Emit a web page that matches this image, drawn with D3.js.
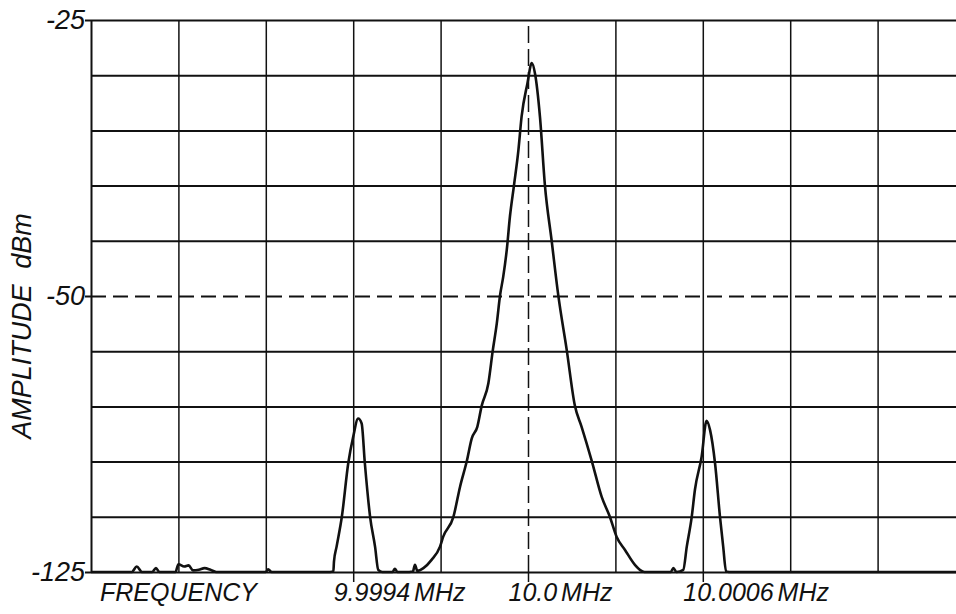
<!DOCTYPE html>
<html>
<head>
<meta charset="utf-8">
<script src="https://cdn.jsdelivr.net/npm/d3@7"></script>
<style>
  body { margin: 0; background: #fff; }
  text { font-family: 'Liberation Sans', Arial, sans-serif; font-style: italic; fill: #111; }
</style>
</head>
<body>
<div id="canvas"></div>
<script>
// chart size
const height = 614;
const width = 956;

// trace: offset from 10.0 MHz in Hz, level in dBm
const freqOffsetHz = [
  -1500, -1360, -1343, -1325, -1290, -1277, -1265, -1210, -1200, -1180, -1165, -1150,
  -1130, -1110, -1090, -1070, -900, -892, -880,
  -690, -668, -666, -657, -639, -617, -600, -583, -571, -560, -542, -525, -514, -500,
  -465, -457, -448, -420, -395, -388, -380, -359, -331, -302, -291, -256, -233, -210,
  -193, -174, -159, -136, -121, -107, -96, -85, -73, -62, -48, -33, -22, -2, 13,
  24, 41, 58, 81, 104, 133, 161, 184, 219, 253, 281, 304, 333, 367, 390, 400,
  490, 499, 510, 533, 545, 562, 573, 596, 613, 625, 642, 659, 670, 680, 700, 1500
];
const levelDbm = [
  -125, -125, -124.0, -125, -125, -124.3, -125, -125, -123.6, -124.0, -123.8, -124.7,
  -124.6, -124.3, -124.6, -125, -125, -124.5, -125,
  -125, -124.9, -123.1, -120.4, -115.0, -105.3, -100.5, -97.2, -98.1, -105.3, -115.0, -120.4, -124.6, -125,
  -125, -124.4, -125, -125, -124.9, -123.7, -124.8, -124.3, -122.8, -120.4, -118.6, -115.0, -109.5, -104.9,
  -100.8, -98.7, -94.9, -90.8, -84.9, -79.9, -74.9, -71.5, -66.7, -60.6, -54.9, -48.6, -42.5, -36.5, -32.8,
  -34.7, -42.5, -54.9, -64.9, -74.9, -84.8, -94.9, -98.7, -104.9, -111.4, -115.0, -118.6, -121.0, -123.7, -124.8, -125,
  -125, -124.3, -125, -124.6, -120.4, -115.0, -110.1, -104.1, -97.6, -99.3, -105.3, -115.0, -120.4, -124.9, -125, -125
];

// axis labels as printed on the plot
const yTicks = [-25, -75, -125];
const yTickLabels = ['-25', '-50', '-125'];
const xTicks = [-600, 0, 600];
const xTickLabels = ['9.9994 MHz', '10.0 MHz', '10.0006 MHz'];

const trace = freqOffsetHz.map((f, i) => [f, levelDbm[i]]);

const canvas = d3.select('#canvas')
  .append('svg')
  .attr('width', width)
  .attr('height', height);

const margin = { top: 20, left: 91, bottom: 42 };
const innerWidth = 874;   // ten 300 Hz divisions, right edge runs off the page
const innerHeight = height - margin.top - margin.bottom;

const xScale = d3.scaleLinear().domain([-1500, 1500]).range([0, innerWidth]);
const yScale = d3.scaleLinear().domain([-125, -25]).range([innerHeight, 0]);

const g = canvas.append('g')
  .attr('transform', `translate(${margin.left},${margin.top})`);

// horizontal grid, 10 dB per division
const hGrid = g.append('g')
  .call(d3.axisLeft(yScale).tickValues(d3.range(-125, -24, 10)).tickSize(-innerWidth - 20).tickFormat(''));
hGrid.select('.domain').remove();
hGrid.selectAll('line')
  .attr('stroke', '#111')
  .attr('stroke-width', 2)
  .attr('stroke-dasharray', d => d === -75 ? '15,7' : null);

// vertical grid, 300 Hz per division
const vGrid = g.append('g')
  .attr('transform', `translate(0,${innerHeight})`)
  .call(d3.axisBottom(xScale).tickValues(d3.range(-1500, 1501, 300)).tickSize(-innerHeight).tickFormat(''));
vGrid.select('.domain').remove();
vGrid.selectAll('line')
  .attr('stroke', '#111')
  .attr('stroke-width', d => d === -1500 ? 2 : 1.5)
  .attr('stroke-dasharray', d => d === 0 ? '17,6' : null);

// y axis ticks and labels
const yAxis = g.append('g')
  .call(d3.axisLeft(yScale).tickValues(yTicks).tickSize(6).tickPadding(0)
    .tickFormat((d, i) => yTickLabels[i]));
yAxis.select('.domain').remove();
yAxis.selectAll('line').attr('stroke', '#111').attr('stroke-width', 2);
yAxis.selectAll('text')
  .style('font-size', '27px')
  .style('font-family', "'Liberation Sans', Arial, sans-serif")
  .attr('fill', '#111');

// x axis ticks and labels
const xAxis = g.append('g')
  .attr('transform', `translate(0,${innerHeight})`)
  .call(d3.axisBottom(xScale).tickValues(xTicks).tickSize(10).tickPadding(4)
    .tickFormat((d, i) => xTickLabels[i]));
xAxis.select('.domain').remove();
xAxis.selectAll('line').attr('stroke', '#111').attr('stroke-width', 1.5);
xAxis.selectAll('text')
  .attr('text-anchor', 'start')
  .attr('dx', -20)
  .attr('y', 29)
  .attr('dy', 0)
  .style('font-size', '25px')
  .style('word-spacing', '-3px')
  .style('font-family', "'Liberation Sans', Arial, sans-serif")
  .attr('fill', '#111');

g.append('text')
  .attr('x', 9)
  .attr('y', innerHeight + 29)
  .style('font-size', '25px')
  .text('FREQUENCY');

// rotated y title
g.append('text')
  .attr('transform', `translate(-60,${yScale(-75) + 30}) rotate(-90)`)
  .attr('text-anchor', 'middle')
  .style('font-size', '27px')
  .style('word-spacing', '8px')
  .text('AMPLITUDE dBm');

// the trace
const line = d3.line()
  .x(d => xScale(d[0]))
  .y(d => yScale(d[1]))
  .curve(d3.curveMonotoneX);

g.append('path')
  .datum(trace)
  .attr('fill', 'none')
  .attr('stroke', '#111')
  .attr('stroke-width', 2.6)
  .attr('stroke-linejoin', 'round')
  .attr('d', line);
</script>
</body>
</html>
